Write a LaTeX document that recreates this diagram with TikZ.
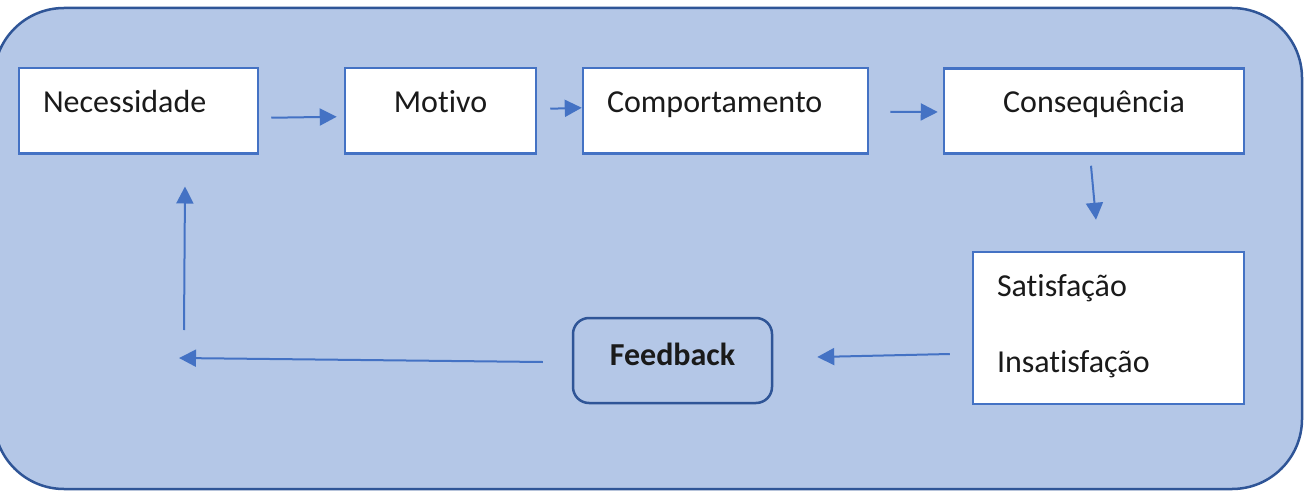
\documentclass[tikz,border=0pt]{standalone}
\usepackage{fontspec}
\setmainfont[Ligatures=NoCommon]{Carlito}
\usetikzlibrary{arrows.meta}
\definecolor{bgfill}{HTML}{B4C7E7}
\definecolor{bgdraw}{HTML}{2F5597}
\definecolor{boxblue}{HTML}{4472C4}
\definecolor{arrblue}{HTML}{4472C4}
\definecolor{txt}{HTML}{1A1A1A}
\tikzset{
  stepbox/.style={draw=boxblue, line width=2.5pt, fill=white, text=txt,
    font=\fontsize{32}{38}\selectfont, minimum height=85pt, inner ysep=0pt,
    text height=25pt, text depth=21.5pt},
  leftbox/.style={stepbox, align=left, inner xsep=24pt},
  fbbox/.style={draw=bgdraw, line width=2.5pt, fill=bgfill, rounded corners=16pt,
    text=txt, font=\fontsize{32}{38}\selectfont\bfseries, minimum width=199pt,
    minimum height=85pt, inner ysep=0pt, text height=31pt, text depth=22pt},
  arr/.style={draw=arrblue, line width=2pt, -{Triangle[length=17pt,width=17pt]}}
}
\begin{document}
\begin{tikzpicture}[x=1pt,y=-1pt]
\useasboundingbox (0,0) rectangle (1308,492);
\clip (0,0) rectangle (1308,492);
\draw[draw=bgdraw, fill=bgfill, line width=2.5pt, rounded corners=70pt]
  (-6,8) rectangle (1302,489);

\node[leftbox, text width=191pt] (nec) at (138.5,110.75) {Necessidade};
\node[stepbox, minimum width=191pt] (mot) at (440.5,110.75) {Motivo};
\node[leftbox, text width=237pt] (com) at (725.5,110.75) {Comportamento};
\node[stepbox, minimum width=300pt] (con) at (1094,111) {Consequência};
\node[leftbox, text width=223pt, minimum height=152pt, text height=24pt, text depth=88pt]
  (sat) at (1108.5,328) {Satisfação\\[38pt]Insatisfação};
\node[fbbox] (fb) at (672.5,360.5) {Feedback};

\coordinate (fbend) at (179,358);
\coordinate (upstart) at (184,330);

\draw[arr] ([xshift=12pt,yshift=-7pt]nec.east) -- ([xshift=-7pt,yshift=-6pt]mot.west);
\draw[arr] ([xshift=13pt,yshift=2pt]mot.east) -- ([xshift=0pt,yshift=3pt]com.west);
\draw[arr] ([xshift=21pt,yshift=-1pt]com.east) -- ([xshift=-5pt,yshift=-1pt]con.west);
\draw[arr] ([xshift=-3pt,yshift=-11pt]con.south) -- ([xshift=-12.5pt,yshift=31pt]sat.north);
\draw[arr] ([xshift=-22pt,yshift=-26pt]sat.west) -- ([xshift=44pt,yshift=3.5pt]fb.east);
\draw[arr] ([xshift=-29pt,yshift=-1.5pt]fb.west) -- (fbend);
\draw[arr] (upstart) -- ([xshift=46.5pt,yshift=-32pt]nec.south);
\end{tikzpicture}
\end{document}
